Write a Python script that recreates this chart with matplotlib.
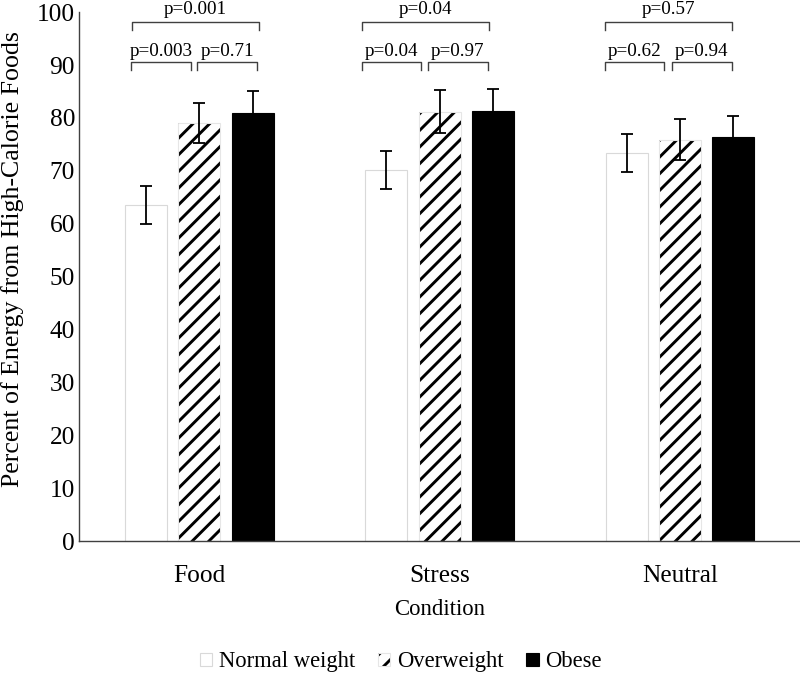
import matplotlib
matplotlib.use("Agg")
import matplotlib.pyplot as plt
from matplotlib.patches import Patch
from matplotlib.legend_handler import HandlerBase
from matplotlib.patches import Rectangle
import numpy as np

conditions = ["Food", "Stress", "Neutral"]
groups = ["Normal weight", "Overweight", "Obese"]
means_normal = [63.6, 70.2, 73.3]
means_over = [79.0, 81.2, 75.9]
means_obese = [81.0, 81.4, 76.4]
err_normal = [3.6, 3.6, 3.6]
err_over = [3.8, 4.0, 3.9]
err_obese = [4.1, 4.0, 4.0]
p_top = ["p=0.001", "p=0.04", "p=0.57"]
p_left = ["p=0.003", "p=0.04", "p=0.62"]
p_right = ["p=0.71", "p=0.97", "p=0.94"]

plt.rcParams['font.family'] = ['Liberation Serif', 'DejaVu Serif']
plt.rcParams['hatch.linewidth'] = 2.1

fig = plt.figure(figsize=(8.0, 6.74), dpi=100)
ax = fig.add_axes([0.099, 0.197, 0.901, 0.785])

x = np.arange(len(conditions))
w = 0.175
step = 0.222
means = [means_normal, means_over, means_obese]
errs = [err_normal, err_over, err_obese]
face = ["white", "white", "black"]
edge = ["#d9d9d9", "#e6e6e6", "black"]
hatches = [None, "//", None]
for i in range(3):
    xs = x + (i - 1) * step
    if hatches[i]:
        ax.bar(xs, means[i], width=w, color=face[i], edgecolor="black",
               hatch=hatches[i], linewidth=0, zorder=2)
        ax.bar(xs, means[i], width=w, fill=False, edgecolor=edge[i],
               linewidth=0.8, zorder=2)
    else:
        ax.bar(xs, means[i], width=w, color=face[i], edgecolor=edge[i],
               linewidth=0.8, zorder=2)
    ax.errorbar(xs, means[i], yerr=errs[i], fmt="none", ecolor="black",
                elinewidth=1.3, capsize=4.5, capthick=1.3, zorder=3)

# bracket geometry (offsets from group centre, in category units)
bracket_offsets = [
    [(-0.279, 0.249), (-0.283, -0.033), (-0.008, 0.241)],
    [(-0.324, 0.204), (-0.324, -0.079), (-0.050, 0.200)],
    [(-0.312, 0.216), (-0.312, -0.067), (-0.033, 0.216)],
]
levels = [(98.2, 96.6, 100.5), (90.6, 89.0, 92.6), (90.6, 89.0, 92.6)]
labels_all = [p_top, p_left, p_right]
bc = "#404040"
for g in range(3):
    for b in range(3):
        x0, x1 = x[g] + bracket_offsets[g][b][0], x[g] + bracket_offsets[g][b][1]
        ytop, ytip, ytxt = levels[b]
        ax.plot([x0, x0, x1, x1], [ytip, ytop, ytop, ytip], color=bc, lw=1.0,
                clip_on=False, zorder=4)
        ax.text((x0 + x1) / 2, ytxt, labels_all[b][g], ha="center", va="center",
                fontsize=13.8, clip_on=False)

ax.set_xlim(-0.5, 2.5)
ax.set_ylim(0, 100)
ax.set_yticks(np.arange(0, 101, 10))
ax.set_xticks(x)
ax.set_xticklabels(conditions)
ax.tick_params(axis="both", length=0, labelsize=18.3)
ax.tick_params(axis="x", pad=17)
ax.tick_params(axis="y", pad=3)
for s in ["top", "right"]:
    ax.spines[s].set_visible(False)
for s in ["left", "bottom"]:
    ax.spines[s].set_color("#404040")
    ax.spines[s].set_linewidth(1.0)
ax.set_xlabel("Condition", fontsize=16.4, labelpad=9)
ax.set_ylabel("Percent of Energy from High-Calorie Foods", fontsize=18.6, labelpad=9)
ax.yaxis.label.set_y(0.533)


class HatchHandler(HandlerBase):
    def create_artists(self, legend, orig_handle, xdescent, ydescent, width,
                       height, fontsize, trans):
        r1 = Rectangle((-xdescent, -ydescent), width, height, facecolor="white",
                       edgecolor="black", hatch="//", linewidth=0, transform=trans)
        r2 = Rectangle((-xdescent, -ydescent), width, height, fill=False,
                       edgecolor="#e6e6e6", linewidth=0.8, transform=trans)
        return [r1, r2]


handles = [Patch(facecolor=face[0], edgecolor=edge[0], linewidth=0.8),
           Patch(facecolor="white"),
           Patch(facecolor=face[2], edgecolor=edge[2], linewidth=0.8)]
fig.legend(handles, groups, loc="center", bbox_to_anchor=(0.501, 0.018), ncol=3,
           frameon=False, fontsize=16.3, handlelength=0.55, handleheight=0.55,
           handletextpad=0.3, columnspacing=1.0, borderpad=0,
           handler_map={handles[1]: HatchHandler()})

fig.savefig("out.png", dpi=100)
